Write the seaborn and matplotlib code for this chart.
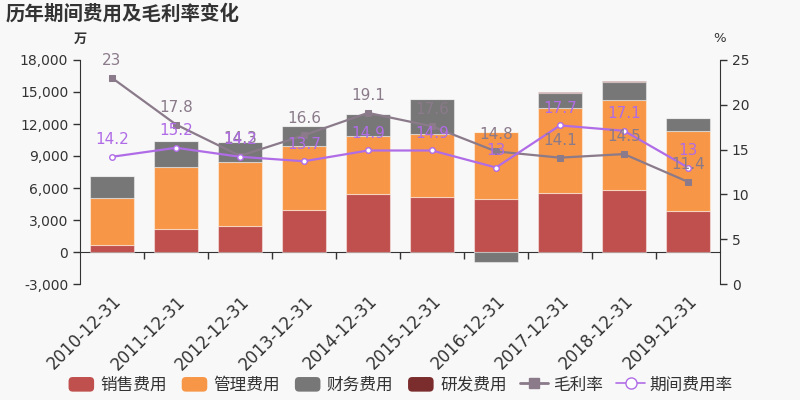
import numpy as np
import pandas as pd
import matplotlib
matplotlib.use("Agg")
import matplotlib.pyplot as plt
from matplotlib.patches import Patch, FancyBboxPatch
from matplotlib.lines import Line2D
from matplotlib.legend_handler import HandlerPatch
from matplotlib.ticker import FuncFormatter, FixedLocator
import seaborn as sns

sns.set_style("white")
plt.rcParams['font.family'] = ['DejaVu Sans', 'Noto Sans CJK SC']
plt.rcParams['axes.unicode_minus'] = False

# 数据 (单位: 万 / %)
years = ["2010-12-31", "2011-12-31", "2012-12-31", "2013-12-31", "2014-12-31",
         "2015-12-31", "2016-12-31", "2017-12-31", "2018-12-31", "2019-12-31"]
sales = [650, 2170, 2450, 3980, 5440, 5160, 4970, 5570, 5810, 3850]
admin = [4390, 5760, 5950, 6000, 5410, 5940, 6290, 7930, 8400, 7470]
finance = [2050, 2520, 1950, 1800, 2090, 3240, -960, 1400, 1710, 1210]
rnd = [0, 0, 0, 0, 0, 0, 0, 120, 100, 70]
gross_margin = [23, 17.8, 14.3, 16.6, 19.1, 17.6, 14.8, 14.1, 14.5, 11.4]
expense_rate = [14.2, 15.2, 14.2, 13.7, 14.9, 14.9, 13, 17.7, 17.1, 13]

series_names = ["销售费用", "管理费用", "财务费用", "研发费用"]
series_vals = [sales, admin, finance, rnd]
colors = ["#c0504d", "#f79646", "#777777", "#7b2c2c"]
gm_color = "#8a7a8a"
er_color = "#b06ce6"

bg = "#f8f8f8"
fig = plt.figure(figsize=(8, 4), dpi=100, facecolor=bg)
ax = fig.add_axes([0.1, 0.29, 0.8, 0.56], facecolor=bg)

# 堆叠柱 (正负分开堆叠)
pos_base = np.zeros(len(years))
neg_base = np.zeros(len(years))
for name, vals, c in zip(series_names, series_vals, colors):
    v = np.array(vals, dtype=float)
    bottom = np.where(v >= 0, pos_base, neg_base)
    df = pd.DataFrame({"year": years, "val": v})
    sns.barplot(data=df, x="year", y="val", ax=ax, color=c, bottom=bottom,
                width=0.7, edgecolor=(1, 1, 1, 0.45), linewidth=0.8,
                saturation=1, zorder=2)
    pos_base = pos_base + np.where(v >= 0, v, 0)
    neg_base = neg_base + np.where(v < 0, v, 0)

ax.set_xlim(-0.5, len(years) - 0.5)
ax.set_ylim(-3000, 18000)
ax.yaxis.set_major_locator(FixedLocator(range(-3000, 18001, 3000)))
ax.yaxis.set_major_formatter(FuncFormatter(lambda v, p: f"{int(v):,}"))
ax.set_xlabel("")
ax.set_ylabel("")
ax.set_xticks(range(len(years)))
ax.set_xticklabels(years, rotation=45, ha="right", rotation_mode="anchor",
                   fontsize=12, color="#333333")
ax.tick_params(axis="x", length=0, pad=6)
ax.tick_params(axis="y", length=5, width=1, color="#333333", labelsize=10,
               labelcolor="#333333", direction="out", left=True)
for s in ["top", "right", "bottom"]:
    ax.spines[s].set_visible(False)
ax.spines["left"].set_color("#333333")

# 零轴线及分隔刻度
zero_ax = ax.secondary_xaxis(3 / 21)
zero_ax.set_xticks([i + 0.5 for i in range(len(years) - 1)])
zero_ax.set_xticklabels([])
zero_ax.tick_params(length=5, width=1, color="#333333", direction="out")
zero_ax.spines["bottom"].set_color("#333333")

# 右轴: 比率
ax2 = ax.twinx()
x = np.arange(len(years))
sns.lineplot(x=x, y=gross_margin, ax=ax2, color=gm_color, linewidth=1.6,
             marker="s", markersize=4, markeredgecolor=gm_color)
sns.lineplot(x=x, y=expense_rate, ax=ax2, color=er_color, linewidth=1.6,
             marker="o", markersize=4, markerfacecolor="white",
             markeredgecolor=er_color, markeredgewidth=1)
for xi, g, e in zip(x, gross_margin, expense_rate):
    ax2.annotate(f"{g:g}", (xi, g), xytext=(0, 7), textcoords="offset points",
                 ha="center", va="bottom", fontsize=11, color=gm_color)
    ax2.annotate(f"{e:g}", (xi, e), xytext=(0, 7), textcoords="offset points",
                 ha="center", va="bottom", fontsize=11, color=er_color)
ax2.set_ylim(0, 25)
ax2.set_yticks([0, 5, 10, 15, 20, 25])
ax2.tick_params(axis="y", length=5, width=1, color="#333333", labelsize=10,
                labelcolor="#333333", direction="out", right=True)
for s in ["top", "left", "bottom"]:
    ax2.spines[s].set_visible(False)
ax2.spines["right"].set_color("#333333")
ax2.set_xlim(-0.5, len(years) - 0.5)

# 单位
fig.text(0.1, 1 - 39 / 400, "万", ha="center", va="center", fontsize=9.5,
         color="#333333", fontweight="bold")
fig.text(0.9, 1 - 38 / 400, "%", ha="center", va="center", fontsize=9.5,
         color="#333333")

# 标题
fig.text(6 / 800, 1 - 14 / 400, "历年期间费用及毛利率变化", ha="left", va="center",
         fontsize=14, fontweight="bold", color="#333333")


# 图例 (圆角色块)
class RoundHandler(HandlerPatch):
    def create_artists(self, legend, orig_handle, xdescent, ydescent,
                       width, height, fontsize, trans):
        p = FancyBboxPatch((-xdescent + 1, -ydescent + 0.5), width - 2, height - 1,
                           boxstyle="round,pad=0,rounding_size=3",
                           facecolor=orig_handle.get_facecolor(),
                           edgecolor="none", transform=trans)
        return [p]


handles = [Patch(facecolor=c, edgecolor=c) for c in colors]
handles.append(Line2D([], [], color=gm_color, marker="s", markersize=7, linewidth=2))
handles.append(Line2D([], [], color=er_color, marker="o", markersize=8,
                      markerfacecolor="white", linewidth=1.2))
labels = series_names + ["毛利率", "期间费用率"]
fig.legend(handles, labels, loc="center", bbox_to_anchor=(0.5, 1 - 385 / 400),
           ncol=6, frameon=False, fontsize=12, handlelength=1.7,
           handleheight=1.1, handletextpad=0.3, columnspacing=0.8,
           labelcolor="#333333", handler_map={Patch: RoundHandler()})

fig.savefig("out.png", dpi=100, facecolor=bg)
